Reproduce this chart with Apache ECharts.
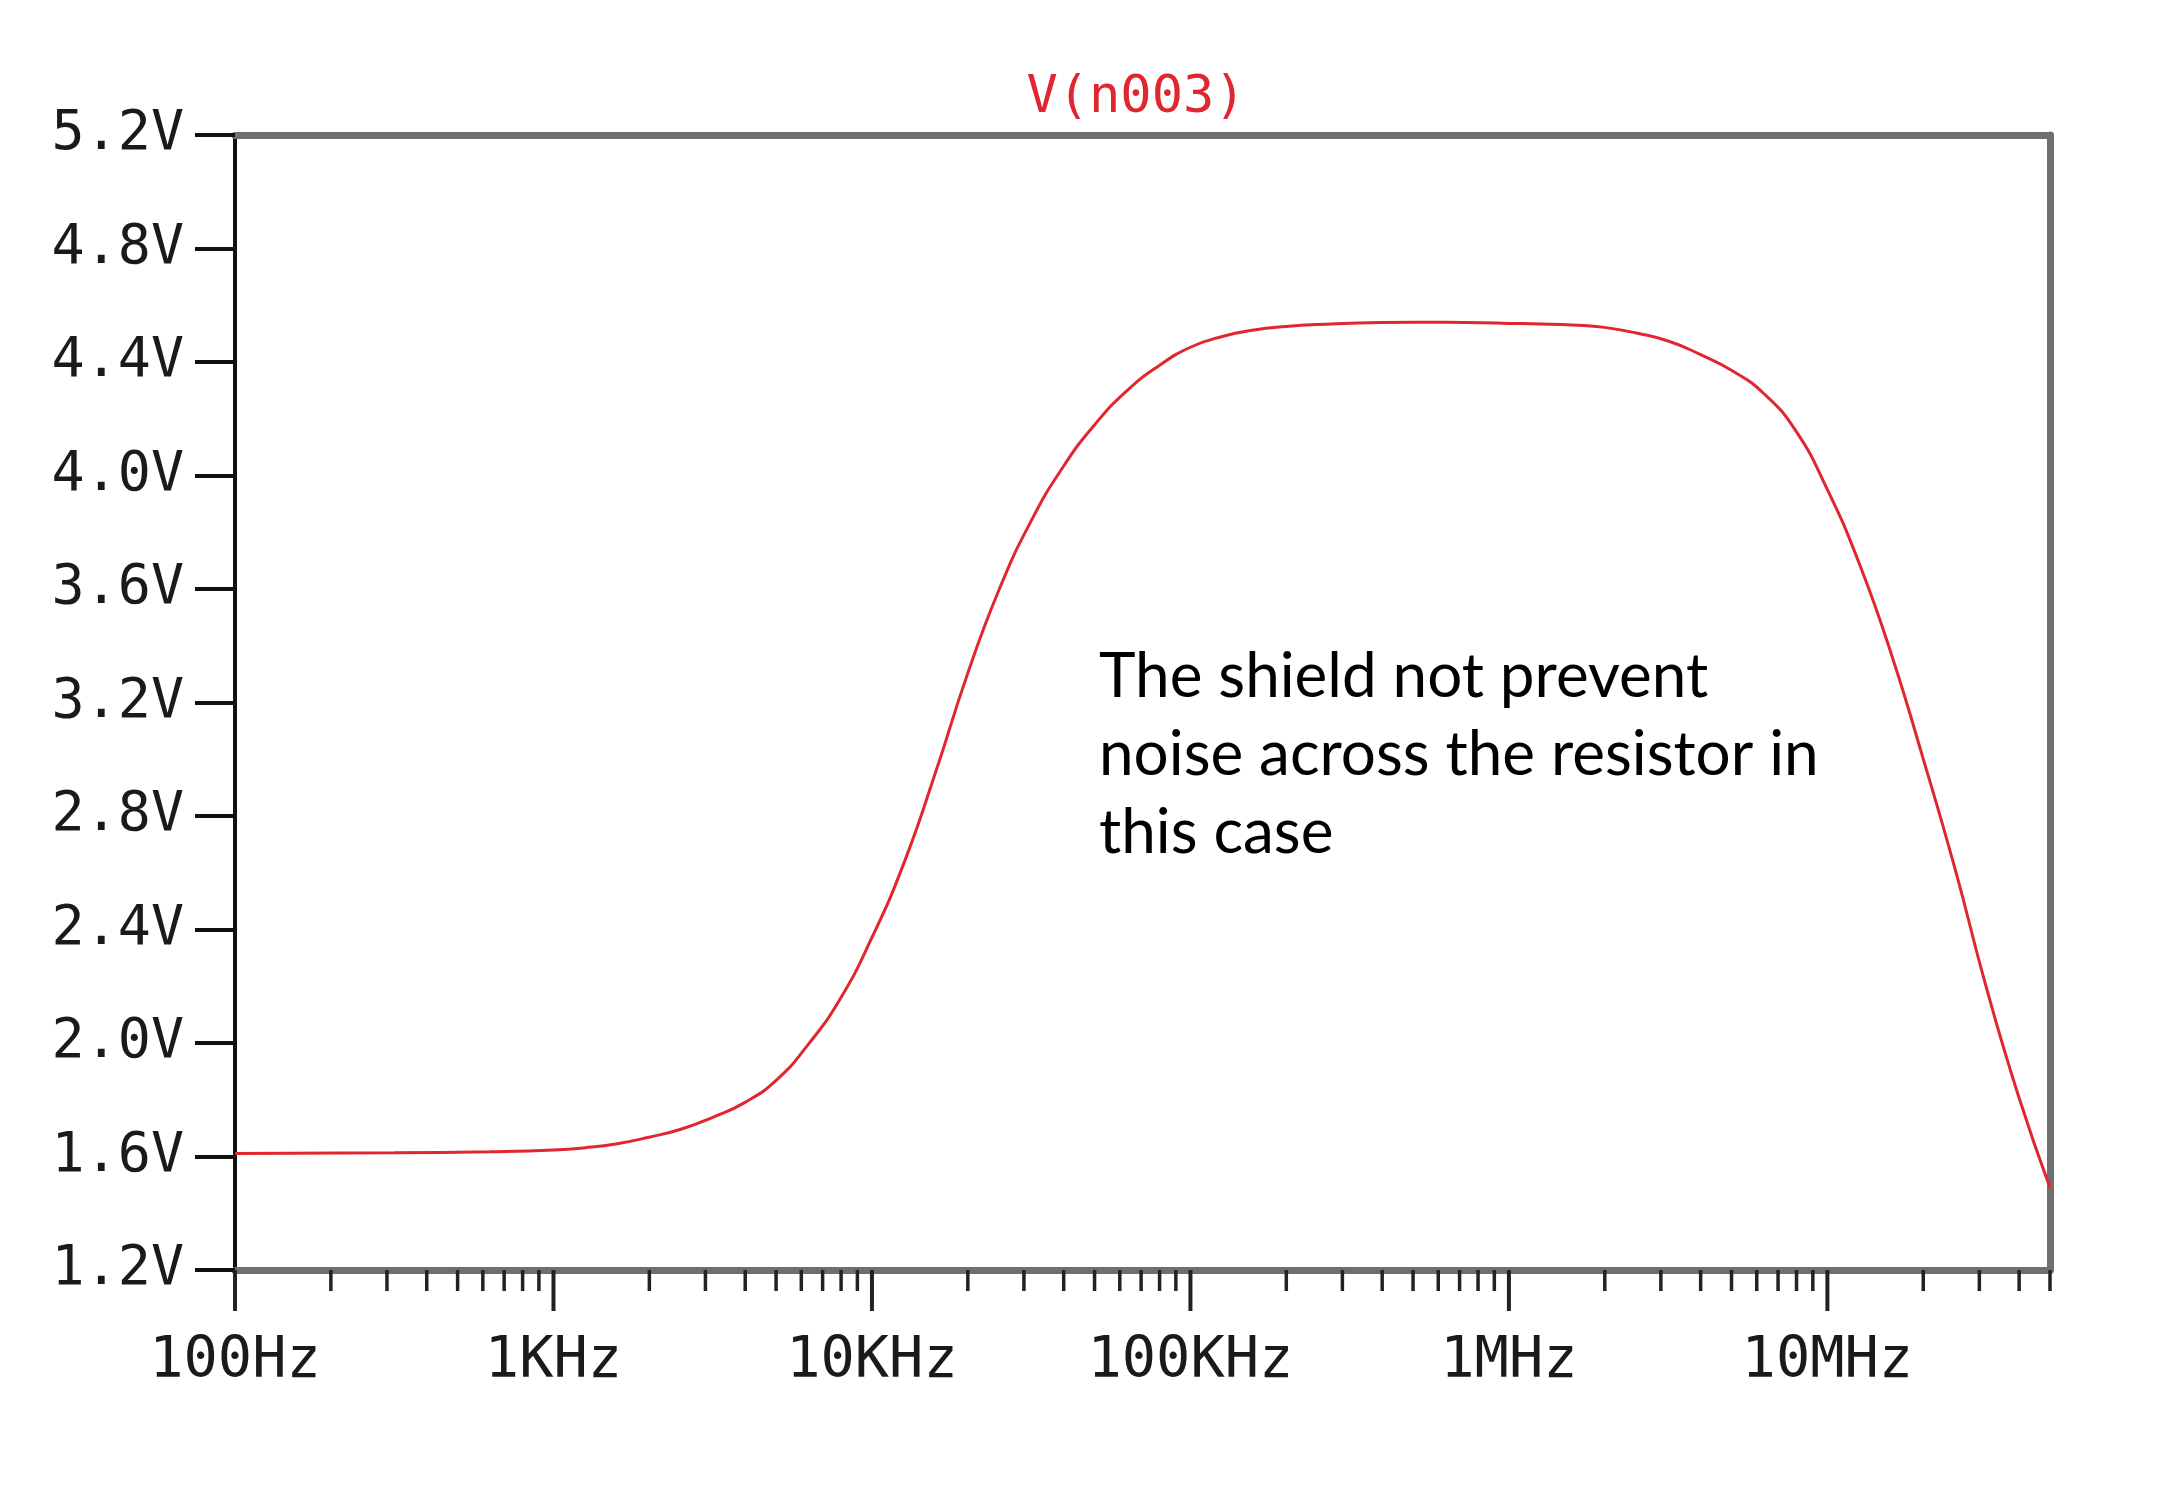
<!DOCTYPE html>
<html>
<head>
<meta charset="utf-8">
<script src="https://cdn.jsdelivr.net/npm/echarts@6/dist/echarts.min.js"></script>
<style>
html,body{margin:0;padding:0;background:#fff;}
#chart{width:2176px;height:1500px;}
</style>
</head>
<body>
<div id="chart"></div>
<script>
// ---- data ----
const freqHz = [100, 316, 631, 1000, 1259, 1585, 1995, 2512, 3162, 3981, 5012, 6310, 7943,
  10000, 12590, 15850, 19950, 25120, 31620, 39810, 50120, 63100, 79430,
  100000, 125900, 158500, 199500, 251200, 398100, 631000,
  1000000, 1259000, 1585000, 1995000, 2512000, 3162000, 3981000, 5012000, 6310000, 7943000,
  10000000, 12590000, 15850000, 19950000, 25120000, 31620000, 39810000, 50000000];
const voltV = [1.611, 1.613, 1.617, 1.623, 1.631, 1.645, 1.668, 1.696, 1.738, 1.790, 1.869, 1.995, 2.155,
  2.372, 2.633, 2.955, 3.300, 3.600, 3.840, 4.030, 4.180, 4.298, 4.386,
  4.452, 4.490, 4.513, 4.525, 4.532, 4.539, 4.540,
  4.536, 4.534, 4.530, 4.522, 4.502, 4.474, 4.427, 4.370, 4.289, 4.159,
  3.950, 3.690, 3.373, 3.005, 2.617, 2.192, 1.813, 1.490];
const seriesName = 'V(n003)';
const annotationLines = ['The shield not prevent', 'noise across the resistor in', 'this case'];
const xMajorTicks = [100, 1000, 10000, 100000, 1000000, 10000000];
const xTickLabels = ['100Hz', '1KHz', '10KHz', '100KHz', '1MHz', '10MHz'];
const xMinorTicks = [200,300,400,500,600,700,800,900,
  2000,3000,4000,5000,6000,7000,8000,9000,
  20000,30000,40000,50000,60000,70000,80000,90000,
  200000,300000,400000,500000,600000,700000,800000,900000,
  2000000,3000000,4000000,5000000,6000000,7000000,8000000,9000000,
  20000000,30000000,40000000,50000000];
const xMin = 100, xMax = 50000000;
const yMin = 1.2, yMax = 5.2, yStep = 0.4;

// ---- build ----
const lineData = freqHz.map((f, i) => [f, voltV[i]]);
const tickData = xMajorTicks.map(v => [v, yMin, 1]).concat(xMinorTicks.map(v => [v, yMin, 0]));

const GRAY = '#6f6f6f';
const RED = '#e0262e';
const MONO = 'DejaVu Sans Mono';

function xLabel(v) {
  for (let i = 0; i < xMajorTicks.length; i++) {
    if (Math.abs(Math.log10(v) - Math.log10(xMajorTicks[i])) < 1e-6) return xTickLabels[i];
  }
  return '';
}

const chart = echarts.init(document.getElementById('chart'));
chart.setOption({
  animation: false,
  backgroundColor: '#ffffff',
  grid: { left: 235, top: 135, width: 1815, height: 1135, containLabel: false },
  xAxis: [{
    type: 'log', logBase: 10, min: xMin, max: xMax, position: 'bottom',
    axisLine: { show: true, lineStyle: { color: GRAY, width: 7 } },
    axisTick: { show: false },
    splitLine: { show: false },
    minorSplitLine: { show: false },
    axisLabel: { formatter: xLabel, fontFamily: MONO, fontSize: 57, color: '#1a1a1a', margin: 64,
      showMinLabel: true, showMaxLabel: true, hideOverlap: false }
  }, {
    type: 'log', logBase: 10, min: xMin, max: xMax, position: 'top',
    axisLine: { show: true, lineStyle: { color: GRAY, width: 7 } },
    axisTick: { show: false }, axisLabel: { show: false }, splitLine: { show: false }
  }],
  yAxis: [{
    type: 'value', min: yMin, max: yMax, interval: yStep, position: 'left',
    axisLine: { show: true, lineStyle: { color: '#111', width: 4 } },
    axisTick: { show: true, length: 40, lineStyle: { color: '#111', width: 4 } },
    splitLine: { show: false },
    axisLabel: { formatter: v => v.toFixed(1) + 'V', fontFamily: MONO, fontSize: 55, color: '#1a1a1a',
      margin: 51, padding: [20, 0, 0, 0], showMinLabel: true, showMaxLabel: true }
  }, {
    type: 'value', min: yMin, max: yMax, interval: yStep, position: 'right',
    axisLine: { show: true, lineStyle: { color: GRAY, width: 7 } },
    axisTick: { show: false }, axisLabel: { show: false }, splitLine: { show: false }
  }],
  series: [{
    name: seriesName,
    type: 'line',
    xAxisIndex: 0, yAxisIndex: 0,
    data: lineData,
    showSymbol: false,
    smooth: 0.5,
    lineStyle: { color: RED, width: 3 },
    z: 5
  }, {
    type: 'custom',
    xAxisIndex: 0, yAxisIndex: 0,
    data: tickData,
    encode: { x: 0, y: 1 },
    clip: false,
    silent: true,
    z: 6,
    renderItem: function (params, api) {
      const p = api.coord([api.value(0), api.value(1)]);
      const len = api.value(2) ? 41 : 21;
      return {
        type: 'line',
        shape: { x1: p[0], y1: p[1], x2: p[0], y2: p[1] + len },
        style: { stroke: '#222', lineWidth: api.value(2) ? 4 : 3.5 }
      };
    }
  }],
  graphic: [{
    type: 'text', x: 1136, y: 98, z: 10,
    style: { text: seriesName, fill: RED, font: '52px "DejaVu Sans Mono"', align: 'center', verticalAlign: 'middle' }
  }].concat(annotationLines.map((t, i) => ({
    type: 'text', x: 1099, y: 677 + i * 78, z: 10,
    style: { text: t, fill: '#000', font: '62px Lato', align: 'left', verticalAlign: 'middle' }
  })))
});
</script>
</body>
</html>
